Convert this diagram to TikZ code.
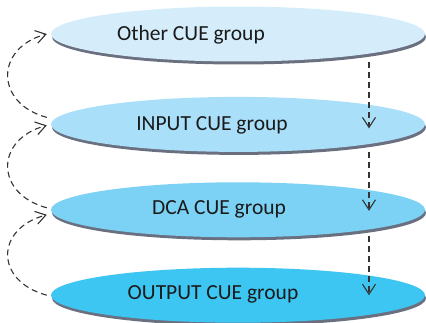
\documentclass[tikz,border=0pt]{standalone}
\usepackage{fontspec}
\setmainfont{Carlito}
\usetikzlibrary{arrows.meta,positioning,shapes.geometric,shadows}
\definecolor{cueA}{HTML}{D5EDFA}
\definecolor{cueB}{HTML}{AADFF9}
\definecolor{cueC}{HTML}{7CD2F5}
\definecolor{cueD}{HTML}{3EC6F2}
\definecolor{cueshade}{HTML}{6A7080}
\definecolor{txtdark}{HTML}{1A1A1A}
\definecolor{linkdark}{HTML}{333333}
\begin{document}
\begin{tikzpicture}[x=1pt,y=1pt,>={Straight Barb[length=10pt,width=13pt]}]
  \tikzstyle{cue}=[ellipse,minimum width=374pt,minimum height=55pt,inner sep=0pt,drop shadow={shadow xshift=1pt,shadow yshift=-3pt,fill=cueshade,opacity=1}]
  \tikzstyle{lbl}=[anchor=base,inner sep=0pt,text=txtdark,font=\fontsize{21.5}{24}\selectfont]
  \tikzstyle{link}=[draw=linkdark,line width=1.1pt,dash pattern=on 6pt off 4pt,->]
  \useasboundingbox (0,0) rectangle (426,322);
  % the four groups
  \node[cue,fill=cueA] (o) at (238,288) {};
  \node[cue,fill=cueB,below=35pt of o] (i) {};
  \node[cue,fill=cueC,below=30pt of i] (d) {};
  \node[cue,fill=cueD,below=30pt of d] (u) {};
  \node[lbl] (ot) at ([xshift=-47pt,yshift=-7pt]o.center) {Other CUE group};
  \node[lbl] (it) at ([xshift=-26pt,yshift=-6pt]i.center) {INPUT CUE group};
  \node[lbl] (dt) at ([xshift=-19pt,yshift=-5pt]d.center) {DCA CUE group};
  \node[lbl] (ut) at ([xshift=-25pt,yshift=-4pt]u.center) {OUTPUT CUE group};
  % going up on the left
  \draw[link] ([xshift=-4pt,yshift=7pt]i.west) .. controls +(-52,14) and +(-52,-14) .. ([xshift=-4pt]o.west);
  \draw[link] ([xshift=-4pt,yshift=2pt]d.west) .. controls +(-52,14) and +(-52,-14) .. ([xshift=-4pt,yshift=-1pt]i.west);
  \draw[link] ([xshift=-4pt]u.west) .. controls +(-52,14) and +(-52,-14) .. ([xshift=-4pt,yshift=-5pt]d.west);
  % going down on the right
  \draw[link] ([xshift=131pt,yshift=-28pt]o.center) -- ([xshift=131pt,yshift=-4pt]i.center);
  \draw[link] ([xshift=131pt,yshift=-28pt]i.center) -- ([xshift=131pt,yshift=-1pt]d.center);
  \draw[link] ([xshift=131pt,yshift=-26pt]d.center) -- ([xshift=131pt]u.center);
\end{tikzpicture}
\end{document}
